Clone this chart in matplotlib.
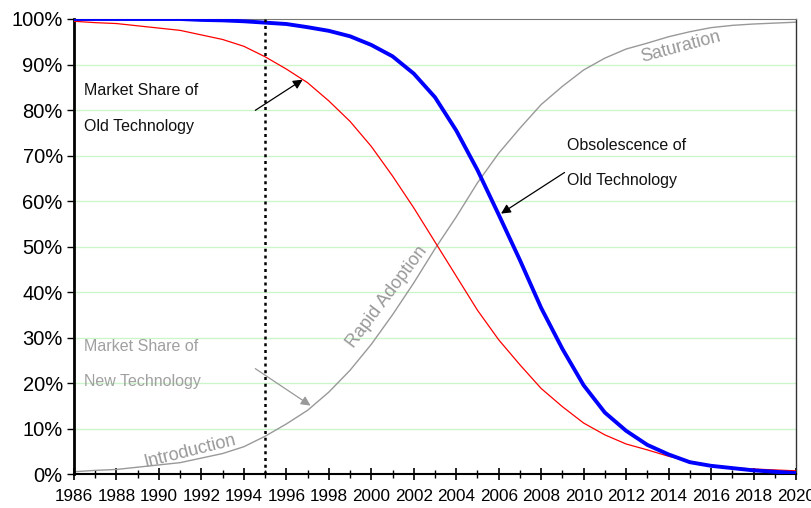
import numpy as np
import matplotlib
matplotlib.use("Agg")
import matplotlib.pyplot as plt
from matplotlib.ticker import MultipleLocator, FuncFormatter

plt.rcParams['font.family'] = ['Liberation Sans', 'DejaVu Sans']

years = list(range(1986, 2021))

# market share of old technology (red), %
old_share = [99.5, 99.2, 99.0, 98.5, 98.0, 97.5, 96.5, 95.5, 94.0, 91.7,
             89.0, 86.0, 82.0, 77.5, 72.0, 65.5, 58.5, 51.0, 43.5, 36.0,
             29.5, 24.0, 18.8, 14.8, 11.2, 8.6, 6.6, 5.3, 3.9, 2.8,
             1.9, 1.4, 1.1, 0.9, 0.7]

# market share of new technology (grey), %
new_share = [0.5, 0.8, 1.0, 1.5, 2.0, 2.5, 3.5, 4.5, 6.0, 8.3,
             11.0, 14.0, 18.0, 22.8, 28.5, 35.0, 42.0, 49.5, 56.5, 64.0,
             70.5, 76.0, 81.2, 85.2, 88.8, 91.4, 93.4, 94.7, 96.1, 97.2,
             98.1, 98.6, 98.9, 99.1, 99.3]

# obsolescence of old technology (blue), %
obsolescence = [100.0, 100.0, 100.0, 100.0, 100.0, 100.0, 99.8, 99.7, 99.5, 99.2,
                98.9, 98.2, 97.4, 96.2, 94.3, 91.8, 88.0, 82.8, 75.5, 66.8,
                57.0, 47.0, 36.5, 27.5, 19.5, 13.5, 9.5, 6.4, 4.3, 2.6,
                1.8, 1.3, 0.8, 0.5, 0.2]

marker_year = 1995

fig = plt.figure(figsize=(8.12, 5.08), dpi=100)
ax = fig.add_axes([0.0911, 0.0669, 0.8892, 0.8957])

for g in range(10, 100, 10):
    ax.axhline(g, color='#ccf5cc', lw=1, zorder=0)

ax.plot(years, new_share, color='#999999', lw=1.0, zorder=2)
ax.plot(years, old_share, color='red', lw=0.9, zorder=3)
ax.plot(years, obsolescence, color='blue', lw=2.8, zorder=4,
        solid_joinstyle='round')
ax.axvline(marker_year, color='black', lw=1.8, ls=(0, (1.2, 1.5)), zorder=5)

ax.set_xlim(1986, 2020)
ax.set_ylim(0, 100)
ax.xaxis.set_major_locator(MultipleLocator(2))
ax.xaxis.set_minor_locator(MultipleLocator(1))
ax.yaxis.set_major_locator(MultipleLocator(10))
ax.yaxis.set_major_formatter(FuncFormatter(lambda v, p: f"{int(v)}%"))
ax.tick_params(axis='x', which='major', direction='inout', length=9,
               width=1.2, labelsize=12.3, pad=6)
ax.tick_params(axis='x', which='minor', direction='inout', length=6, width=1)
ax.tick_params(axis='y', which='major', direction='out', length=5,
               width=1, labelsize=14.5, pad=3)

ax.spines['left'].set_linewidth(2)
ax.spines['bottom'].set_linewidth(1.5)
ax.spines['top'].set_color('#777777')
ax.spines['right'].set_color('#333333')
ax.spines['right'].set_linewidth(1)

txt = dict(fontsize=11.5, va='center', ha='left')
ax.text(1986.47, 84.2, "Market Share of", color='#111111', **txt)
ax.text(1986.47, 76.3, "Old Technology", color='#111111', **txt)
ax.annotate("", xy=(1996.88, 87.0), xytext=(1994.43, 79.6),
            arrowprops=dict(arrowstyle='-|>', color='black', lw=0.9,
                            mutation_scale=14))

ax.text(1986.47, 28.1, "Market Share of", color='#a0a0a0', **txt)
ax.text(1986.47, 20.4, "New Technology", color='#a0a0a0', **txt)
ax.annotate("", xy=(1997.25, 14.7), xytext=(1994.43, 23.5),
            arrowprops=dict(arrowstyle='-|>', color='#999999', lw=0.9,
                            mutation_scale=14))

ax.text(2009.21, 72.3, "Obsolescence of", color='#111111', **txt)
ax.text(2009.21, 64.4, "Old Technology", color='#111111', **txt)
ax.annotate("", xy=(2006.0, 56.9), xytext=(2009.21, 66.6),
            arrowprops=dict(arrowstyle='-|>', color='black', lw=0.9,
                            mutation_scale=14))

stage = dict(fontsize=13, color='#999999', ha='center', va='center')
ax.text(1991.46, 4.9, "Introduction", rotation=14, **stage)
ax.text(2000.74, 38.9, "Rapid Adoption", rotation=53, **stage)
ax.text(2014.58, 93.8, "Saturation", rotation=15, **stage)

fig.savefig("out.png", dpi=100)
